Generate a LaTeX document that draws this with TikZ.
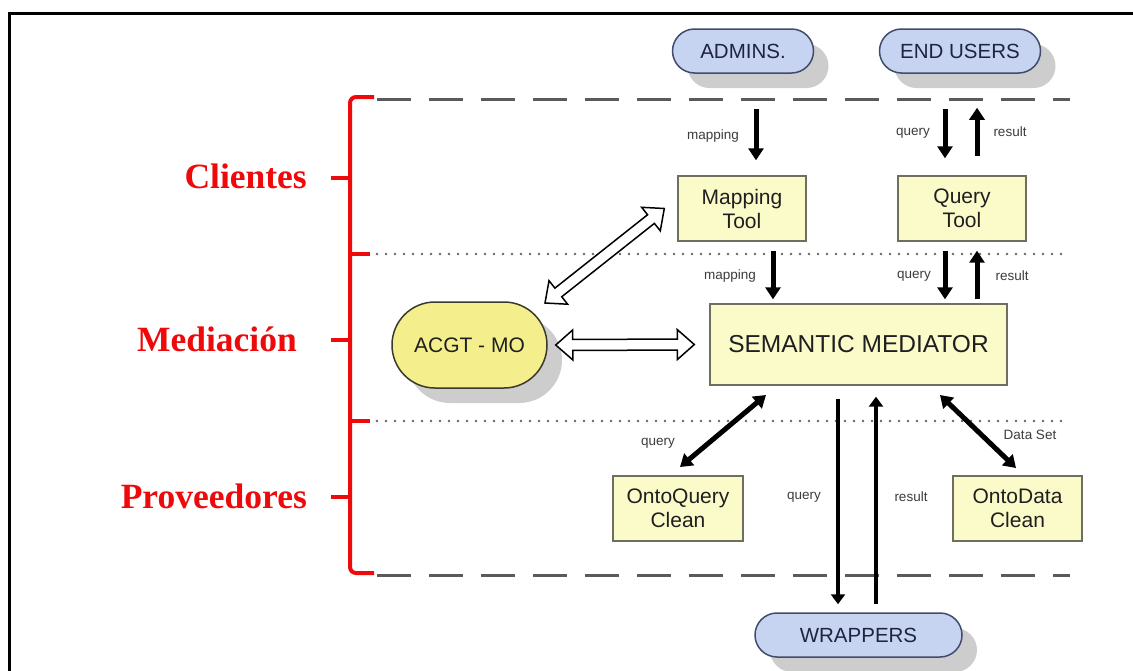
\documentclass[tikz,border=0pt]{standalone}
\usepackage{fontspec}
\setmainfont{Liberation Sans}
\newfontfamily\layerfont{Liberation Serif}
\usetikzlibrary{arrows.meta,shapes.misc,shadows,calc}

\definecolor{pillfill}{HTML}{C6D4F1}
\definecolor{pillline}{HTML}{414B6B}
\definecolor{pilltext}{HTML}{1E2440}
\definecolor{boxfill}{HTML}{FBFBC9}
\definecolor{boxline}{HTML}{6F6F60}
\definecolor{ontofill}{HTML}{F4EF8C}
\definecolor{ontoline}{HTML}{3A3A2C}
\definecolor{layerred}{HTML}{EE0A0A}
\definecolor{shadowgray}{HTML}{CDCDCD}
\definecolor{labelgray}{HTML}{3C3C3C}
\definecolor{sepgray}{HTML}{5A5A5A}

\tikzset{
  pill/.style={rounded rectangle, draw=pillline, fill=pillfill, line width=1.5pt,
    text=pilltext, font=\fontsize{20.5}{24}\selectfont, inner sep=0pt,
    drop shadow={shadow xshift=15pt, shadow yshift=-15pt, fill=shadowgray, opacity=1}},
  toolbox/.style={rectangle, draw=boxline, fill=boxfill, line width=1.4pt,
    text=black!88, font=\fontsize{21}{24}\selectfont, align=center, inner sep=0pt},
  ontology/.style={rounded rectangle, draw=ontoline, fill=ontofill, line width=1.5pt,
    text=black!88, font=\fontsize{21}{24}\selectfont, inner sep=0pt,
    drop shadow={shadow xshift=15pt, shadow yshift=-15pt, fill=shadowgray, opacity=1}},
  flowlabel/.style={text=labelgray, font=\fontsize{13.5}{16}\selectfont, inner sep=0pt},
  layerlabel/.style={text=layerred, font=\layerfont\bfseries\fontsize{35.5}{40}\selectfont,
    inner sep=0pt, anchor=base east},
  bracket/.style={draw=layerred, line width=4pt, rounded corners=6pt},
  tierdash/.style={draw=sepgray, line width=3pt, dash pattern=on 34pt off 18pt},
  tierdot/.style={draw=black!60, line width=2.6pt, line cap=round, dash pattern=on 0pt off 9pt},
  blk/.style={line width=5pt, -{Triangle[length=12pt,width=15pt]}},
  blkboth/.style={line width=5pt, {Triangle[length=12pt,width=15pt]}-{Triangle[length=12pt,width=15pt]}},
  blklong/.style={line width=4.5pt, -{Triangle[length=10pt,width=14pt]}},
  hollowarrow/.style={draw=black, fill=white, line width=1.5pt, line join=miter},
}

% open double-headed arrow between two points
\newcommand\hollowlink[2]{%
  \draw[hollowarrow] let \p1=(#1), \p2=(#2),
      \n1={atan2(\y2-\y1,\x2-\x1)}, \n2={veclen(\x2-\x1,\y2-\y1)-17} in
    (\p1)
    -- ($(\p1)+(\n1:17pt)+(\n1+90:15pt)$)
    -- ($(\p1)+(\n1:17pt)+(\n1+90:5.5pt)$)
    -- ($(\p1)+(\n1:\n2)+(\n1+90:5.5pt)$)
    -- ($(\p1)+(\n1:\n2)+(\n1+90:15pt)$)
    -- (\p2)
    -- ($(\p1)+(\n1:\n2)+(\n1-90:15pt)$)
    -- ($(\p1)+(\n1:\n2)+(\n1-90:5.5pt)$)
    -- ($(\p1)+(\n1:17pt)+(\n1-90:5.5pt)$)
    -- ($(\p1)+(\n1:17pt)+(\n1-90:15pt)$)
    -- cycle;}

\begin{document}
\begin{tikzpicture}[x=1pt,y=-1pt]
\useasboundingbox (0,0) rectangle (1133,670);
\fill[white] (0,0) rectangle (1133,670);

% frame
\draw[line width=3pt] (9,672) -- (9,13) -- (1135,13);

% tier separators
\draw[tierdash] (377,99) -- (1070,99);
\draw[tierdot] (377,254) -- (1063,254);
\draw[tierdot] (377,421) -- (1063,421);
\draw[tierdash] (377,575) -- (1070,575);

% tier bracket
\draw[bracket] (374,97) -- (350,97) -- (350,573) -- (374,573);
\draw[draw=layerred, line width=4pt] (350,254) -- (370,254);
\draw[draw=layerred, line width=4pt] (350,421) -- (370,421);
\draw[draw=layerred, line width=4pt] (350,178) -- (331,178);
\draw[draw=layerred, line width=4pt] (350,340) -- (331,340);
\draw[draw=layerred, line width=4pt] (350,497) -- (331,497);

% tier names
\node[layerlabel] (clientes) at (307,188) {Clientes};
\node[layerlabel] (mediacion) at (297,351) {Mediación};
\node[layerlabel] (proveedores) at (307,508) {Proveedores};

% actors
\node[pill, minimum width=141pt, minimum height=44pt] (admins) at (743,51) {ADMINS.};
\node[pill, minimum width=161pt, minimum height=44pt] (endusers) at (960,51) {END USERS};
\node[pill, minimum width=207pt, minimum height=44pt] (wrappers) at (858.5,635) {WRAPPERS};

% tools and services
\node[toolbox, minimum width=128pt, minimum height=65pt] (mapping) at (742,208.5) {Mapping\\Tool};
\node[toolbox, minimum width=128pt, minimum height=65pt] (querytool) at (962,208.5) {Query\\Tool};
\node[toolbox, minimum width=297pt, minimum height=81pt,
      font=\fontsize{24.5}{28}\selectfont] (semantic) at (858.5,344.5) {SEMANTIC MEDIATOR};
\node[toolbox, minimum width=130pt, minimum height=65pt] (ontoquery) at (678,508.5) {OntoQuery\\Clean};
\node[toolbox, minimum width=129pt, minimum height=65pt] (ontodata) at (1017.5,508.5) {OntoData\\Clean};

% ontology
\node[ontology, minimum width=155pt, minimum height=86pt] (acgt) at (469.5,345) {ACGT - MO};

% arrow columns
\coordinate (xa) at (756,0);
\coordinate (xq) at (945,0);
\coordinate (xr) at (977,0);
\coordinate (xm) at (773,0);
\coordinate (xwq) at (838,0);
\coordinate (xwr) at (876,0);

% client tier
\draw[blk, shorten <=35pt, shorten >=15pt] (admins.south -| xa) -- (mapping.north -| xa);
\draw[blk, shorten <=35pt, shorten >=17pt] (endusers.south -| xq) -- (querytool.north -| xq);
\draw[blk, shorten <=19pt, shorten >=34pt] (querytool.north -| xr) -- (endusers.south -| xr);
\node[flowlabel] (l1) at (713,136) {mapping};
\node[flowlabel] (l2) at (913,133) {query};
\node[flowlabel] (l3) at (1010,132) {result};

% tools to mediator
\draw[blk, shorten <=9pt, shorten >=4pt] (mapping.south -| xm) -- (semantic.north -| xm);
\draw[blk, shorten <=9pt, shorten >=4pt] (querytool.south -| xq) -- (semantic.north -| xq);
\draw[blk, shorten <=4pt, shorten >=9pt] (semantic.north -| xr) -- (querytool.south -| xr);
\node[flowlabel] (l4) at (730,276) {mapping};
\node[flowlabel] (l5) at (914,276) {query};
\node[flowlabel] (l6) at (1012,276) {result};

% ontology links
\coordinate (h1) at ($(acgt.east)+(8,0)$);
\coordinate (h2) at ($(semantic.west)+(-15,0)$);
\hollowlink{h1}{h2}
\coordinate (h3) at (545,303);
\coordinate (h4) at ($(mapping.west)+(-13,0)$);
\hollowlink{h3}{h4}

% provider tier
\coordinate (qa) at (766,395);
\coordinate (qb) at (680,467);
\draw[blkboth] (qa) -- (qb);
\coordinate (da) at (940,395);
\coordinate (db) at (1016,468);
\draw[blkboth] (da) -- (db);
\node[flowlabel] (l7) at (658,443) {query};
\node[flowlabel] (l8) at (1030,435) {Data Set};

\draw[blklong, shorten <=13pt, shorten >=8pt] (semantic.south -| xwq) -- (wrappers.north -| xwq);
\draw[blklong, shorten <=8pt, shorten >=11pt] (wrappers.north -| xwr) -- (semantic.south -| xwr);
\node[flowlabel] (l9) at (804,497) {query};
\node[flowlabel] (l10) at (911,497) {result};
\end{tikzpicture}
\end{document}
